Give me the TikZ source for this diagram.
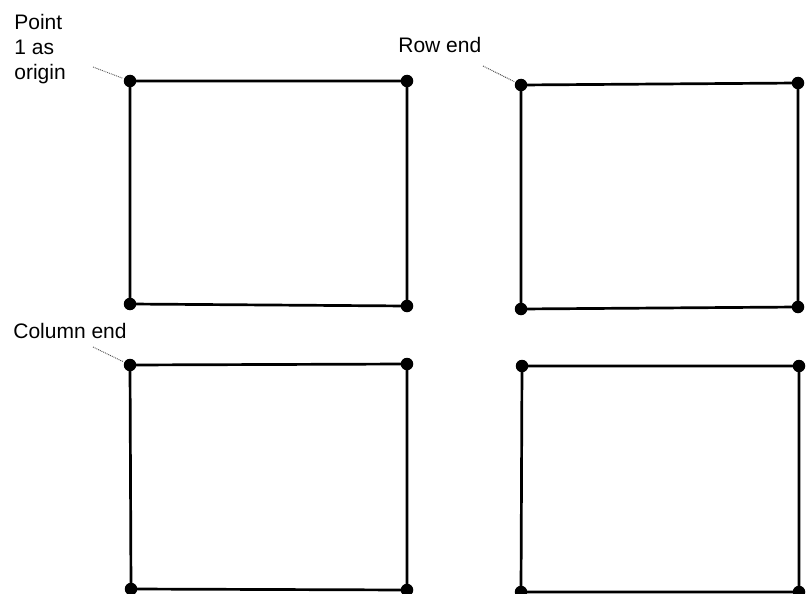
\documentclass[tikz,border=0pt]{standalone}
\usepackage{fontspec}
\setmainfont{Liberation Sans}
\usepackage{tikz}
\usetikzlibrary{positioning}

\begin{document}
\begin{tikzpicture}[x=1pt, y=-1pt, line width=2.7pt,
  dot/.style={circle,fill=black,inner sep=0pt,minimum size=12.5pt},
  lbl/.style={anchor=base west,inner sep=0pt,align=left,font=\fontsize{21}{25}\selectfont},
  lead/.style={line width=0.9pt,densely dotted,gray!60!black}]
\useasboundingbox (0,0) rectangle (809,594);
% corners of the four frames
\node[dot] (a1) at (130,81) {};  \node[dot] (a2) at (407,81) {};
\node[dot] (a3) at (130,304) {}; \node[dot] (a4) at (407,306) {};
\node[dot] (b1) at (521,85) {};  \node[dot] (b2) at (798,83) {};
\node[dot] (b3) at (521,309) {}; \node[dot] (b4) at (798,307) {};
\node[dot] (c1) at (130,365) {}; \node[dot] (c2) at (407,364) {};
\node[dot] (c3) at (131,589) {}; \node[dot] (c4) at (407,590) {};
\node[dot] (d1) at (522,366) {}; \node[dot] (d2) at (799,366) {};
\node[dot] (d3) at (521,592) {}; \node[dot] (d4) at (799,592) {};
\foreach \f in {a,b,c,d}
  \draw (\f1.center) -- (\f2.center) -- (\f4.center) -- (\f3.center) -- cycle;
% labels (base = last line)
\node[lbl] (origin) at (13,80) {Point\\1 as\\origin};
\node[lbl] (rowend) at (397,53) {Row end};
\node[lbl] (colend) at (12,338) {Column end};
\coordinate (ot) at (93,67);
\coordinate (rt) at (483,66);
\coordinate (ct) at (93,347);
\draw[lead] (ot) -- (a1);
\draw[lead] (rt) -- (b1);
\draw[lead] (ct) -- (c1);
\end{tikzpicture}
\end{document}
